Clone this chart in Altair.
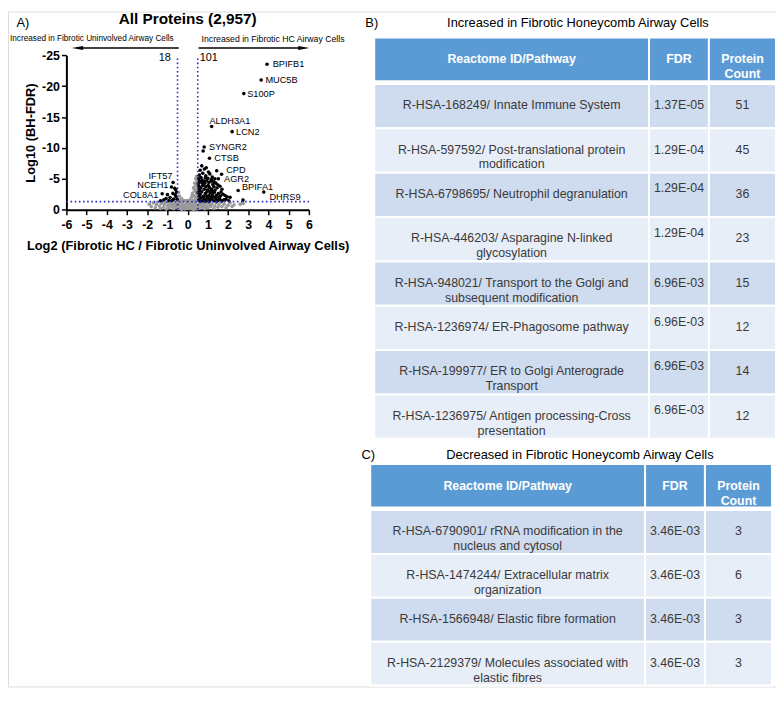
import altair as alt
import pandas as pd

# ---------------- volcano data ----------------
grey_x = [-1.9, -1.8, -1.7, -1.6, -1.55, -1.5, -1.4, -1.35, -1.3, -1.2,
          -1.15, -1.1, -1.05, -1.0, -0.95, -0.9, -0.85, -0.8, -0.75, -0.7,
          -0.65, -0.6, -0.55, -0.5, -0.45, -0.4, -0.35, -0.3, -0.25, -0.2,
          -0.15, -0.1, -0.05, 0.0, 0.05, 0.1, 0.15, 0.2, 0.25, 0.3,
          0.35, 0.4, 0.45, 0.5, 0.55, 0.6, 0.65, 0.7, 0.75, 0.8,
          0.85, 0.9, 0.95, 1.0, 1.05, 1.1, 1.15, 1.2, 1.3, 1.35,
          1.4, 1.5, 1.55, 1.65, 1.7, 1.8, 1.9, 2.0, 2.1, 2.2,
          2.3, 2.6, 2.75, -0.3, 0.3, -0.6, 0.6, 0.1, -0.1, 0.2,
          0.45, 0.4, 0.48, 0.35, 0.42, 0.3, 0.46, 0.38, 0.25, 0.44,
          0.32, 0.2, 0.4, 0.12, 0.28, 0.36, 0.47, 0.43, 0.33, 0.22,
          -0.45, -0.4, -0.3, -0.2, -0.47, -0.35, -0.1, 0.0, -0.25, 0.15,
          -0.05, 0.05, -0.15, 0.25, 0.4, -0.45, 0.55, 0.7, -0.75, 0.9]
grey_y = [-0.9, -0.5, -1.1, -0.3, -0.8, -1.2, -0.6, -0.2, -1.0, -0.4,
          -0.8, -1.2, -0.1, -0.6, -1.0, -0.3, -0.8, -1.25, -0.5, -0.15,
          -0.9, -0.4, -1.15, -0.7, -0.2, -1.0, -0.5, -1.2, -0.3, -0.8,
          -0.1, -0.5, -1.0, -0.3, -0.7, -1.1, -0.2, -0.6, -1.0, -0.4,
          -0.8, -1.2, -0.1, -0.5, -0.9, -0.25, -0.7, -1.1, -0.4, -0.85,
          -0.15, -0.6, -1.0, -0.3, -0.75, -1.15, -0.5, -0.9, -0.2, -0.6,
          -1.1, -0.4, -0.8, -1.2, -0.5, -0.9, -0.3, -0.7, -1.1, -0.5,
          -0.8, -0.9, -1.0, -0.05, -0.05, -0.7, -0.6, -0.4, -0.9, -0.15,
          -5.4, -5.0, -4.6, -4.3, -3.9, -3.6, -3.3, -3.0, -2.7, -2.5,
          -2.2, -2.0, -1.8, -1.6, -1.5, -1.4, -2.05, -4.2, -3.3, -2.4,
          -2.8, -2.2, -1.8, -1.5, -1.6, -1.4, -1.45, -1.5, -0.7, -0.9,
          -0.2, -0.15, -0.6, -0.3, -0.6, -0.9, -0.2, -0.55, -1.0, -0.35]

down_x = [-0.72, -0.80, -0.64, -1.26, -1.0, -0.73, -0.55, -0.57, -0.87,
          -1.18, -1.34, -0.69, -1.07, -0.6, -0.93, -0.77, -0.52, -0.62]
down_y = [-4.4, -3.68, -3.48, -2.59, -2.44, -2.64, -2.85, -2.13, -1.97,
          -1.61, -1.46, -1.71, -1.8, -3.26, -1.5, -1.5, -1.7, -2.4]

up_x = [3.93, 3.64, 2.78, 1.19, 2.20, 0.82, 0.77, 1.08, 1.44, 1.68, 1.52, 2.50, 3.77, 2.74, 2.04,
        0.70, 0.83, 0.62, 1.03, 0.92, 0.58, 0.75, 0.9, 1.1, 0.66, 1.22, 0.55, 1.0,
        0.6, 0.72, 0.85, 0.95, 1.05, 1.15, 1.3, 0.53, 1.25, 1.4, 0.78,
        0.56, 0.65, 0.74, 0.82, 0.9, 0.98, 1.08, 1.18, 1.3, 1.45, 1.6, 1.35, 0.6, 1.7, 1.02,
        0.52, 0.62, 0.7, 0.8, 0.88, 0.96, 1.05, 1.12, 1.22, 1.32, 1.42, 1.52, 1.62, 1.75, 1.85,
        0.75, 1.28, 1.95,
        0.55, 0.65, 0.72, 0.82, 0.9, 1.0, 1.1, 1.2, 1.3, 1.4, 1.5, 1.6, 1.7, 1.8, 0.58, 1.15,
        1.55, 0.95,
        0.88, 1.18, 0.7, 1.5, 1.1, 0.58, 1.65, 2.1, 1.9, 0.85, 1.05, 1.45, 0.62, 1.25, 0.8, 1.35]
up_y = [-23.55, -21.0, -18.8, -13.46, -12.64, -10.15, -9.5, -8.34, -6.32, -5.75, -5.0, -3.1, -2.85, -1.55, -1.45,
        -7.1, -6.6, -6.4, -6.1, -6.8, -5.6, -5.9, -5.5, -5.8, -5.2, -5.3, -5.0, -5.1,
        -4.6, -4.8, -4.3, -4.7, -4.4, -4.6, -4.5, -4.2, -4.1, -4.3, -4.05,
        -3.8, -3.5, -3.9, -3.3, -3.7, -3.2, -3.6, -3.3, -3.7, -3.5, -3.8, -3.1, -3.1, -3.3, -3.9,
        -2.8, -2.5, -2.9, -2.2, -2.6, -2.9, -2.3, -2.7, -2.4, -2.8, -2.3, -2.6, -2.2, -2.5, -2.3,
        -2.05, -2.05, -2.1,
        -1.6, -1.9, -1.45, -1.75, -1.5, -1.85, -1.55, -1.7, -1.45, -1.8, -1.5, -1.65, -1.45, -1.6, -2.2, -2.0,
        -1.95, -2.15,
        -5.15, -4.9, -4.35, -4.0, -3.0, -3.4, -2.85, -2.0, -1.7, -1.35, -1.35, -1.35, -1.35, -2.95, -4.6, -5.0]

# gene labels: text anchor positions in data units
lab_right_genes = ["BPIFB1", "MUC5B", "S100P", "ALDH3A1", "LCN2", "SYNGR2", "CTSB",
                   "CPD", "AGR2", "BPIFA1", "DHRS9"]
lab_right_x = [4.21, 3.85, 2.95, 1.08, 2.40, 1.06, 1.32, 1.91, 1.80, 2.69, 4.05]
lab_right_y = [-23.56, -21.02, -18.79, -14.39, -12.64, -10.16, -8.34, -6.45, -4.95, -3.68, -2.13]
lab_left_genes = ["IFT57", "NCEH1", "COL8A1"]
lab_left_x = [-0.75, -0.95, -1.45]
lab_left_y = [-5.5, -3.92, -2.42]

fc_cut = [-0.5, 0.5]
fdr_cut = [-1.3]
x_ticks = list(range(-6, 7))
y_ticks = [0, -5, -10, -15, -20, -25]

# ---------------- table data ----------------
header = ["Reactome ID/Pathway", "FDR", "Protein\nCount"]
b_path = ["R-HSA-168249/ Innate Immune System",
          "R-HSA-597592/ Post-translational protein\nmodification",
          "R-HSA-6798695/ Neutrophil degranulation",
          "R-HSA-446203/ Asparagine N-linked\nglycosylation",
          "R-HSA-948021/ Transport to the Golgi and\nsubsequent modification",
          "R-HSA-1236974/ ER-Phagosome pathway",
          "R-HSA-199977/ ER to Golgi Anterograde\nTransport",
          "R-HSA-1236975/ Antigen processing-Cross\npresentation"]
b_fdr = ["1.37E-05", "1.29E-04", "1.29E-04", "1.29E-04",
         "6.96E-03", "6.96E-03", "6.96E-03", "6.96E-03"]
b_count = ["51", "45", "36", "23", "15", "12", "14", "12"]
b_fdr_top = [False, False, True, True, False, True, True, True]

c_path = ["R-HSA-6790901/ rRNA modification in the\nnucleus and cytosol",
          "R-HSA-1474244/ Extracellular matrix\norganization",
          "R-HSA-1566948/ Elastic fibre formation",
          "R-HSA-2129379/ Molecules associated with\nelastic fibres"]
c_fdr = ["3.46E-03", "3.46E-03", "3.46E-03", "3.46E-03"]
c_count = ["3", "6", "3", "3"]
c_fdr_top = [False, False, False, False]

# ---------------- layout ----------------
W, H = 776, 682
FONT = "Liberation Sans"


def sx(ref):
    return ref - 8


def sy(ref):
    return (ref - 1) * (H / 704.0)


BLUE_LINE = "#2A2AC8"
HEAD = "#5B9BD5"
DARK = "#CFDBEE"
LIGHT = "#E8EEF7"
TXT = "#3A3A3A"

# ---------------- volcano ----------------
vx = alt.Scale(domain=[-6, 6], range=[sx(67), sx(312)], nice=False, zero=False)
vy = alt.Scale(domain=[0, -25], range=[sy(207.7), sy(46.7)], nice=False, zero=False)

axis_common = dict(grid=False, domainColor="black", domainWidth=2, tickColor="black",
                   tickWidth=1.5, tickSize=5, labelFont=FONT, labelFontSize=12.5,
                   labelFontWeight="bold", labelColor="black", titleFont=FONT,
                   titleFontSize=13, titleFontWeight="bold", titleColor="black",
                   labelExpr="'' + datum.value", labelOverlap=False, labelFlush=False)
xaxis = alt.Axis(orient="bottom", offset=sy(207.7) - H, values=x_ticks,
                 title="Log2 (Fibrotic HC / Fibrotic Uninvolved Airway Cells)",
                 labelPadding=4, titlePadding=9, **axis_common)
yaxis = alt.Axis(orient="left", offset=-sx(67), values=y_ticks, title="Log10 (BH-FDR)",
                 labelPadding=2, titlePadding=4, **axis_common)


def X(field):
    return alt.X(field, type="quantitative", scale=vx, axis=xaxis)


def Y(field):
    return alt.Y(field, type="quantitative", scale=vy, axis=yaxis)


grey_df = pd.DataFrame({"lfc": grey_x, "lfdr": grey_y})
black_df = pd.DataFrame({"lfc": down_x + up_x, "lfdr": down_y + up_y})

grey = alt.Chart(grey_df).mark_circle(size=13, color="#9A9A9A", opacity=1).encode(
    x=X("lfc"), y=Y("lfdr"))
black = alt.Chart(black_df).mark_circle(size=13, color="black", opacity=1).encode(
    x=X("lfc"), y=Y("lfdr"))

hline = alt.Chart(pd.DataFrame({"y": fdr_cut, "x0": [-6], "x1": [6]})).mark_rule(
    color=BLUE_LINE, strokeWidth=1.6, strokeDash=[1.6, 2.6]).encode(
    x=X("x0"), x2="x1", y=Y("y"))
vline = alt.Chart(pd.DataFrame({"x": fc_cut, "y0": [0, 0], "y1": [-24.6, -24.6]})).mark_rule(
    color=BLUE_LINE, strokeWidth=1.6, strokeDash=[1.6, 2.6]).encode(
    x=X("x"), y=Y("y0"), y2="y1")

lab_r = alt.Chart(pd.DataFrame({"g": lab_right_genes, "x": lab_right_x, "y": lab_right_y})).mark_text(
    align="left", baseline="middle", font=FONT, fontSize=9.3, color="black").encode(
    x=X("x"), y=Y("y"), text="g:N")
lab_l = alt.Chart(pd.DataFrame({"g": lab_left_genes, "x": lab_left_x, "y": lab_left_y})).mark_text(
    align="right", baseline="middle", font=FONT, fontSize=9.3, color="black").encode(
    x=X("x"), y=Y("y"), text="g:N")

# direction arrows above the plot
arrow_df = pd.DataFrame({"x0": [-0.44, 0.54], "x1": [-5.4, 5.5], "y": [-26.2, -26.2]})
arrows = alt.Chart(arrow_df).mark_rule(color="black", strokeWidth=1.5).encode(
    x=X("x0"), x2="x1", y=Y("y"))
head_l = alt.Chart(pd.DataFrame({"x": [-5.45], "y": [-26.2]})).mark_point(
    shape="M-1,0L1,-0.36L1,0.36Z", size=130, filled=True, color="black", opacity=1).encode(
    x=X("x"), y=Y("y"))
head_r = alt.Chart(pd.DataFrame({"x": [5.75], "y": [-26.2]})).mark_point(
    shape="M1,0L-1,-0.36L-1,0.36Z", size=130, filled=True, color="black", opacity=1).encode(
    x=X("x"), y=Y("y"))

dir_l = alt.Chart(pd.DataFrame({"t": ["Increased in Fibrotic Uninvolved Airway Cells"],
                                "x": [-0.69], "y": [-27.6]})).mark_text(
    align="right", baseline="middle", font=FONT, fontSize=8.3, color="black").encode(
    x=X("x"), y=Y("y"), text="t:N")
dir_r = alt.Chart(pd.DataFrame({"t": ["Increased in Fibrotic HC Airway Cells"],
                                "x": [0.69], "y": [-27.6]})).mark_text(
    align="left", baseline="middle", font=FONT, fontSize=8.8, color="black").encode(
    x=X("x"), y=Y("y"), text="t:N")
n_l = alt.Chart(pd.DataFrame({"t": ["18"], "x": [-0.83], "y": [-24.5]})).mark_text(
    align="right", baseline="middle", font=FONT, fontSize=11, color="black").encode(
    x=X("x"), y=Y("y"), text="t:N")
n_r = alt.Chart(pd.DataFrame({"t": ["101"], "x": [0.6], "y": [-24.5]})).mark_text(
    align="left", baseline="middle", font=FONT, fontSize=11, color="black").encode(
    x=X("x"), y=Y("y"), text="t:N")
vtitle = alt.Chart(pd.DataFrame({"t": ["All Proteins (2,957)"], "x": [0.0], "y": [-30.9]})).mark_text(
    align="center", baseline="middle", font=FONT, fontSize=15.5, fontWeight="bold",
    color="black").encode(x=X("x"), y=Y("y"), text="t:N")
a_lab = alt.Chart(pd.DataFrame({"t": ["A)"], "x": [-8.47], "y": [-30.2]})).mark_text(
    align="left", baseline="middle", font=FONT, fontSize=13, color="black").encode(
    x=X("x"), y=Y("y"), text="t:N")

volcano = alt.layer(grey, black, hline, vline, lab_r, lab_l, arrows, head_l, head_r,
                    dir_l, dir_r, n_l, n_r, vtitle, a_lab)

# ---------------- tables ----------------
col_edges = [0.0, 0.684, 0.833, 1.0]
col_mid = [(col_edges[i] + col_edges[i + 1]) / 2 for i in range(3)]


def make_table(paths, fdrs, counts, fdr_top, xr, yr, letter, title, title_x, title_y):
    n = len(paths)
    xs = alt.Scale(domain=[0, 1], range=xr, nice=False, zero=False)
    ys = alt.Scale(domain=[-1.05, n], range=yr, nice=False, zero=False)
    cells = []
    for c in range(3):
        cells.append({"x0": col_edges[c], "x1": col_edges[c + 1], "y0": -1.05, "y1": -0.06,
                      "fill": HEAD})
        for r in range(n):
            cells.append({"x0": col_edges[c], "x1": col_edges[c + 1], "y0": r, "y1": r + 1,
                          "fill": DARK if r % 2 == 0 else LIGHT})
    rect = alt.Chart(pd.DataFrame(cells)).mark_rect(stroke="white", strokeWidth=2).encode(
        x=alt.X("x0:Q", scale=xs, axis=None), x2="x1",
        y=alt.Y("y0:Q", scale=ys, axis=None), y2="y1",
        fill=alt.Fill("fill:N", scale=None))
    head_df = pd.DataFrame({"t": header, "x": col_mid, "y": [-0.555] * 3})
    head_t = alt.Chart(head_df).mark_text(
        align="center", baseline="middle", font=FONT, fontSize=12.5, fontWeight="bold",
        color="white", lineBreak="\n", lineHeight=15).encode(
        x=alt.X("x:Q", scale=xs, axis=None), y=alt.Y("y:Q", scale=ys, axis=None), text="t:N")
    body = []
    for r in range(n):
        body.append({"t": paths[r], "x": col_mid[0], "y": r + 0.48})
        body.append({"t": fdrs[r], "x": col_mid[1], "y": r + (0.357 if fdr_top[r] else 0.48)})
        body.append({"t": counts[r], "x": col_mid[2], "y": r + 0.48})
    body_t = alt.Chart(pd.DataFrame(body)).mark_text(
        align="center", baseline="middle", font=FONT, fontSize=12.5, color=TXT,
        lineBreak="\n", lineHeight=15).encode(
        x=alt.X("x:Q", scale=xs, axis=None), y=alt.Y("y:Q", scale=ys, axis=None), text="t:N")
    let_t = alt.Chart(pd.DataFrame({"t": [letter], "x": [-0.022], "y": [title_y]})).mark_text(
        align="left", baseline="middle", font=FONT, fontSize=13, color="black").encode(
        x=alt.X("x:Q", scale=xs, axis=None), y=alt.Y("y:Q", scale=ys, axis=None), text="t:N")
    tit_t = alt.Chart(pd.DataFrame({"t": [title], "x": [title_x], "y": [title_y]})).mark_text(
        align="center", baseline="middle", font=FONT, fontSize=13, color="black").encode(
        x=alt.X("x:Q", scale=xs, axis=None), y=alt.Y("y:Q", scale=ys, axis=None), text="t:N")
    return alt.layer(rect, head_t, body_t, let_t, tit_t)


table_b = make_table(b_path, b_fdr, b_count, b_fdr_top,
                     [sx(378), sx(784)], [sy(28), sy(446.7)],
                     "B)", "Increased in Fibrotic Honeycomb Airway Cells", 0.507, -1.37)
table_c = make_table(c_path, c_fdr, c_count, c_fdr_top,
                     [sx(374), sx(780)], [sy(473), sy(704)],
                     "C)", "Decreased in Fibrotic Honeycomb Airway Cells", 0.522, -1.26)

chart = alt.layer(volcano, table_b, table_c).resolve_scale(
    x="independent", y="independent").properties(
    width=W, height=H, padding=0, background="transparent",
    autosize=alt.AutoSizeParams(type="none")
).configure_view(stroke=None).configure(font=FONT)

chart.save("out.html", embed_options={"renderer": "svg", "actions": False})
